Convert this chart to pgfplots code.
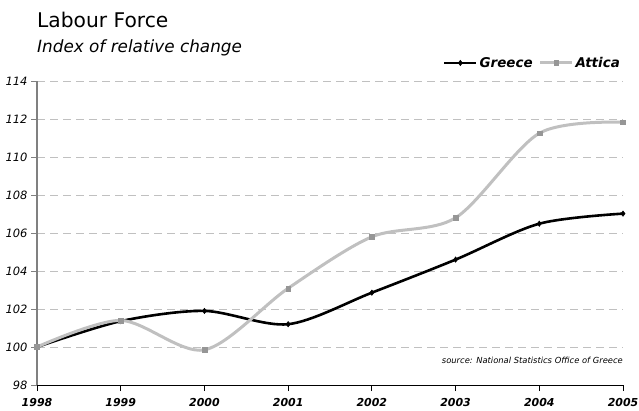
\documentclass[border=0pt]{standalone}
\usepackage{fontspec}
\setmainfont{DejaVu Sans}
\usepackage{pgfplots}
\pgfplotsset{compat=1.18}
\definecolor{atticaline}{HTML}{C0C0C0}
\definecolor{atticamark}{HTML}{969696}
\definecolor{gridgray}{HTML}{C0C0C0}
\definecolor{axisgray}{HTML}{808080}
\begin{document}
\begin{tikzpicture}[x=1bp,y=1bp]
\useasboundingbox (0,0) rectangle (639,410);
% titles
\node[anchor=base west,inner sep=0pt,font=\fontsize{20.3}{20.3}\selectfont] at (37,382.7) {Labour Force};
\node[anchor=base west,inner sep=0pt,font=\fontsize{16.9}{16.9}\selectfont\itshape] at (37,358) {Index of relative change};
\begin{axis}[
  at={(37bp,25bp)}, anchor=south west,
  scale only axis, width=586bp, height=304bp,
  xmin=1998, xmax=2005, ymin=98, ymax=114,
  xtick={1998,1999,2000,2001,2002,2003,2004,2005},
  xticklabels={1998,1999,2000,2001,2002,2003,2004,2005},
  ytick={98,100,102,104,106,108,110,112,114},
  yticklabels={98,100,102,104,106,108,110,112,114},
  axis x line*=bottom, axis y line*=left,
  x axis line style={black, line width=0.8bp},
  y axis line style={axisgray, line width=1.2bp},
  tick align=outside,
  major tick length=6bp,
  xtick style={black, line width=0.8bp},
  ytick style={axisgray, line width=0.8bp},
  xticklabel style={font=\fontsize{11}{11}\selectfont\bfseries\itshape, yshift=-4bp},
  yticklabel style={font=\fontsize{11.5}{11.5}\selectfont\itshape},
  ymajorgrids,
  major grid style={gridgray, line width=0.8bp, dash pattern=on 8bp off 5bp},
  legend style={at={(1,1)}, anchor=south east, draw=none, fill=none,
    legend columns=2, yshift=8bp, xshift=2bp,
    font=\fontsize{13.5}{13.5}\selectfont\bfseries\itshape,
    /tikz/every even column/.append style={column sep=4bp}},
  legend image code/.code={%
    \draw[mark repeat=2,mark phase=2,#1] plot coordinates {(0bp,0bp) (16bp,0bp) (32bp,0bp)};},
  clip=false,
]
\addplot[black, line width=2.6bp, smooth, tension=0.5,
  mark=diamond*, mark size=2.7bp, mark options={black, line width=0.5bp}]
  coordinates {(1998,100) (1999,101.36) (2000,101.9) (2001,101.2) (2002,102.86) (2003,104.6) (2004,106.49) (2005,107.02)};
\addlegendentry{Greece}
\addplot[atticaline, line width=3bp, smooth, tension=0.5,
  mark=square*, mark size=2.4bp, mark options={atticamark, fill=atticamark, line width=0.3bp}]
  coordinates {(1998,100) (1999,101.4) (2000,99.85) (2001,103.09) (2002,105.8) (2003,106.8) (2004,111.25) (2005,111.83)};
\addlegendentry{Attica}
\node[anchor=east, inner sep=0pt, font=\fontsize{8.4}{8.4}\selectfont\itshape] at (axis cs:2005,99.29) {source: National Statistics Office of Greece};
\end{axis}
\end{tikzpicture}
\end{document}
